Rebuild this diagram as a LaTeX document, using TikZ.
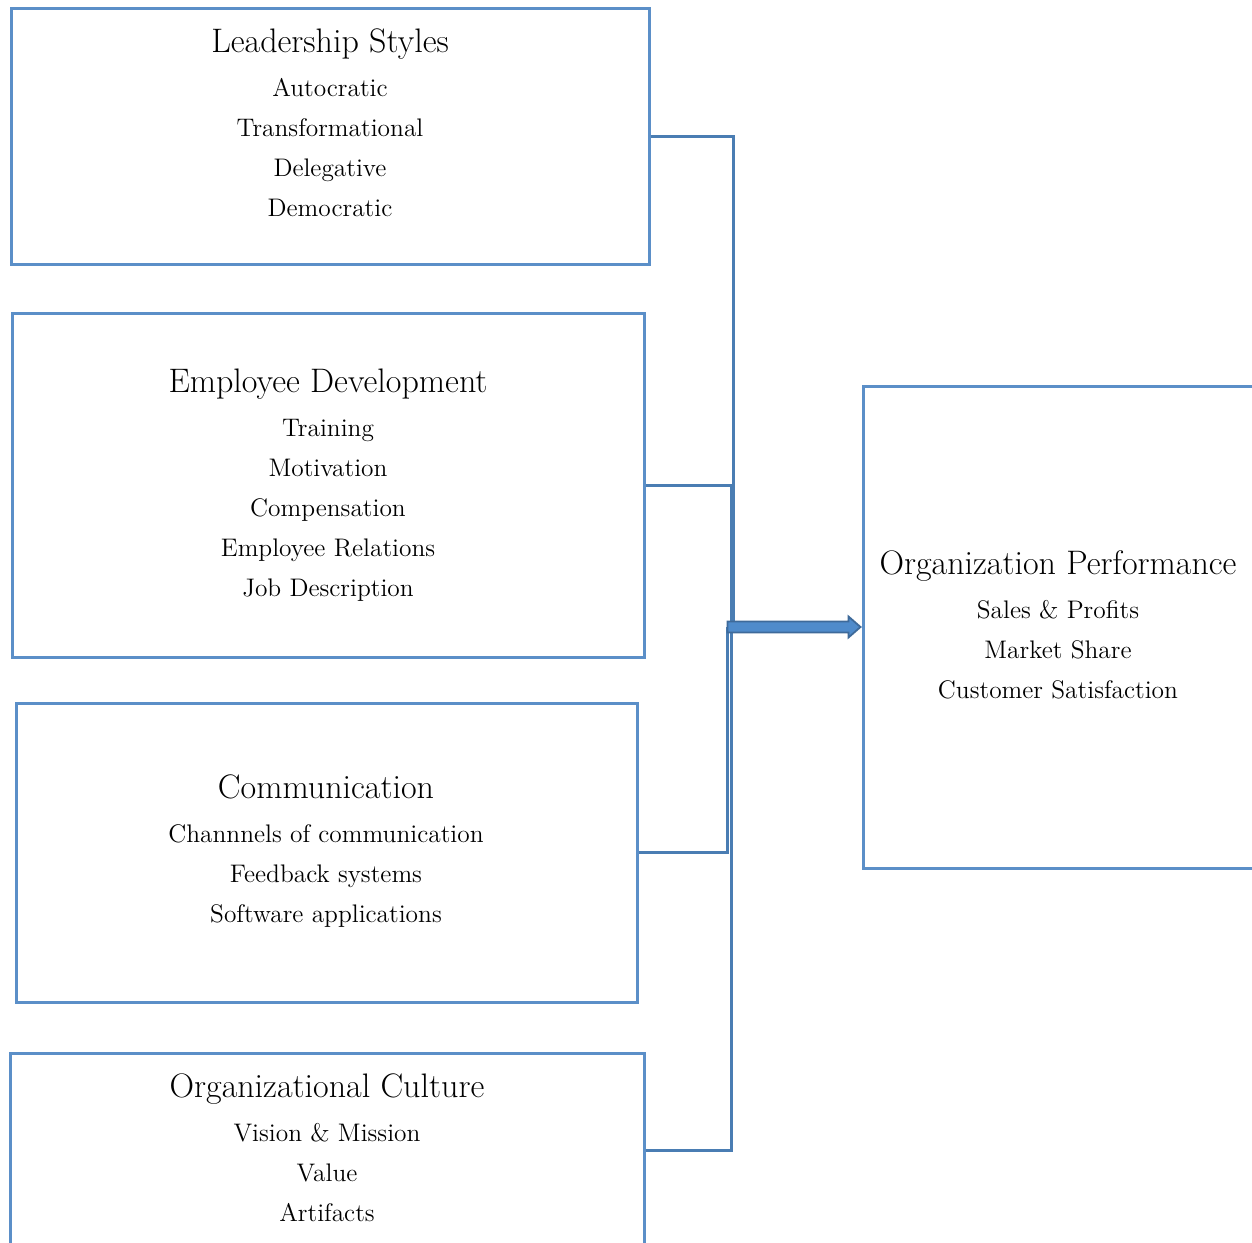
\documentclass[tikz,border=0pt]{standalone}
\usetikzlibrary{calc}
\definecolor{boxblue}{HTML}{5B8FC8}
\definecolor{linkblue}{HTML}{4A7DB3}
\definecolor{arrowfill}{HTML}{4F8BCB}
\definecolor{arrowdraw}{HTML}{3E6A9A}
\tikzset{
  framebox/.style={draw=boxblue, line width=1.5pt, inner sep=0pt},
  link/.style={draw=linkblue, line width=1.5pt},
  boxtext/.style={align=center, inner sep=0pt, font=\fontsize{12.7}{20}\selectfont},
  blockarrow/.style={fill=arrowfill, draw=arrowdraw, line width=0.9pt, line join=miter}
}
\newcommand{\ttl}[1]{{\fontsize{17}{20}\selectfont #1}\\[1.8pt]}
\begin{document}
\begin{tikzpicture}[x=0.5pt,y=-0.5pt]
\useasboundingbox (0,0) rectangle (1252,1242);
\clip (0,0) rectangle (1252,1242);
% boxes
\node[framebox, minimum width=319pt, minimum height=128pt] (ls) at (330,136) {};
\node[framebox, minimum width=316pt, minimum height=172pt] (ed) at (328,485) {};
\node[framebox, minimum width=310.5pt, minimum height=149.5pt] (cm) at (326.5,852.5) {};
\node[framebox, minimum width=317pt, minimum height=97pt] (oc) at (327,1150) {};
\node[framebox, minimum width=210pt, minimum height=241pt] (op) at (1073,627) {};
% texts
\node[boxtext] (lst) at (330,123) {\ttl{Leadership Styles}Autocratic\\Transformational\\Delegative\\Democratic};
\node[boxtext] (edt) at (328,485) {\ttl{Employee Development}Training\\Motivation\\Compensation\\Employee Relations\\Job Description};
\node[boxtext] (cmt) at (326,851) {\ttl{Communication}Channnels of communication\\Feedback systems\\Software applications};
\node[boxtext] (oct) at (327,1148) {\ttl{Organizational Culture}Vision \& Mission\\Value\\Artifacts};
\node[boxtext] (opt) at (1058,625) {\ttl{Organization Performance}Sales \& Profits\\Market Share\\Customer Satisfaction};
% junction points
\coordinate (ja) at (733,627);
\coordinate (jb) at (731,627);
\coordinate (jc) at (727,627);
\coordinate (jd) at (731,627);
\draw[link] (ls.east) -| (ja);
\draw[link] (ed.east) -| (jb);
\draw[link] (cm.east) -| (jc);
\draw[link] (oc.east) -| (jd);
% block arrow
\draw[blockarrow] ($(op.west)+(-134,-5.5)$) -- ($(op.west)+(-13,-5.5)$) -- ($(op.west)+(-13,-10.5)$)
  -- ($(op.west)+(-1,0)$) -- ($(op.west)+(-13,10.5)$) -- ($(op.west)+(-13,5.5)$)
  -- ($(op.west)+(-134,5.5)$) -- cycle;
\end{tikzpicture}
\end{document}
